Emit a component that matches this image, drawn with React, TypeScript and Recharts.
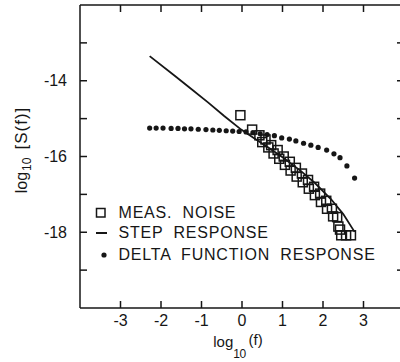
import React from 'react';
import { ScatterChart, Scatter, XAxis, YAxis } from 'recharts';

const INK = '#161616';
const FONT = '"Liberation Sans", Arial, sans-serif';

const X_TICKS = [-3, -2, -1, 0, 1, 2, 3];
const Y_TICKS = [-19, -18, -17, -16, -15, -14, -13];
const Y_LABELED = [-18, -16, -14];

// measured noise (squares)
const noiseLogF = [
  -0.04, 0.25, 0.43, 0.5, 0.58, 0.65, 0.72, 0.78, 0.88, 0.92, 1.03, 1.06, 1.18, 1.2, 1.33, 1.35,
  1.48, 1.5, 1.63, 1.65, 1.78, 1.8, 1.93, 1.95, 2.08, 2.1, 2.22, 2.25, 2.35, 2.38, 2.42, 2.45, 2.57, 2.69,
];
const noiseLogS = [
  -14.91, -15.29, -15.44, -15.62, -15.55, -15.76, -15.7, -15.92, -15.83, -16.06, -16.0, -16.22, -16.14, -16.37, -16.3, -16.53,
  -16.45, -16.68, -16.62, -16.85, -16.8, -17.02, -16.98, -17.2, -17.17, -17.38, -17.38, -17.58, -17.6, -17.85, -17.93, -18.08, -18.08, -18.08,
];

// step response (solid line)
const stepLogF = [-2.28, -1.67, -1.26, -0.84, -0.44, -0.02, 0.3, 0.65, 1.0, 1.45, 1.8, 2.2, 2.5, 2.78];
const stepLogS = [-13.35, -13.86, -14.21, -14.57, -14.93, -15.29, -15.52, -15.76, -16.02, -16.38, -16.7, -17.13, -17.52, -17.99];

// delta function response (dots)
const deltaLogF = [
  -2.28, -2.12, -1.95, -1.75, -1.58, -1.42, -1.26, -1.08, -0.89, -0.72, -0.56, -0.39, -0.23, -0.07,
  0.1, 0.27, 0.45, 0.62, 0.8, 0.98, 1.17, 1.33, 1.52, 1.7, 1.88, 2.09, 2.27, 2.42, 2.59, 2.78,
];
const deltaLogS = [
  -15.25, -15.25, -15.25, -15.26, -15.26, -15.27, -15.27, -15.28, -15.29, -15.3, -15.31, -15.32, -15.33, -15.34,
  -15.35, -15.37, -15.4, -15.42, -15.45, -15.51, -15.54, -15.59, -15.65, -15.7, -15.76, -15.83, -15.93, -16.03, -16.25, -16.57,
];

const zip = (xs: number[], ys: number[]) => xs.map((x, i) => ({ x, y: ys[i] }));
const noise = zip(noiseLogF, noiseLogS);
const step = zip(stepLogF, stepLogS);
const delta = zip(deltaLogF, deltaLogS);

const TICK = { fontSize: 16, fill: INK, fontFamily: FONT };
const blank = () => '';

const SquareShape = (p: any) => (
  <rect x={p.cx - 4.5} y={p.cy - 4.5} width={9} height={9} fill="none" stroke={INK} strokeWidth={1.5} />
);
const DotShape = (p: any) => <circle cx={p.cx} cy={p.cy} r={2.6} fill={INK} />;
const NoShape = () => <g />;

function XTitle() {
  return (
    <text x={238} y={347} textAnchor="middle" fill={INK} fontFamily={FONT} fontSize={15}>
      log<tspan fontSize={12} dy={11} letterSpacing={-0.5}>10</tspan>
      <tspan fontSize={15} dy={-13} dx={3}>(f)</tspan>
    </text>
  );
}

function YTitle() {
  return (
    <text x={27} y={150} transform="rotate(-90 27 150)" textAnchor="middle" fill={INK} fontFamily={FONT} fontSize={16}>
      log<tspan fontSize={12} dy={4} dx={1}>10</tspan>
      <tspan dy={-4} dx={8} fontSize={17} letterSpacing={1}>[S(f)]</tspan>
    </text>
  );
}

const LEGEND_ROWS = [
  { label: 'MEAS. NOISE', kind: 'square', cy: 212.5 },
  { label: 'STEP RESPONSE', kind: 'line', cy: 232.7 },
  { label: 'DELTA FUNCTION RESPONSE', kind: 'dot', cy: 254.5 },
];

function LegendIcon({ kind }: { kind: string }) {
  return (
    <svg width={20} height={20} style={{ position: 'absolute', left: 91, top: 0 }}>
      {kind === 'square' && <rect x={5.5} y={5.5} width={8.5} height={8.5} fill="none" stroke={INK} strokeWidth={1.5} />}
      {kind === 'line' && <line x1={5} y1={10} x2={16} y2={10} stroke={INK} strokeWidth={2} />}
      {kind === 'dot' && <circle cx={13} cy={10} r={2.6} fill={INK} />}
    </svg>
  );
}

export default function App() {
  return (
    <div style={{ position: 'absolute', left: 0, top: 0, width: 400, height: 362, overflow: 'hidden', background: '#fff' }}>
      <ScatterChart width={410} height={362} margin={{ top: 0, right: 0, bottom: 0, left: 0 }}>
        <XAxis
          xAxisId="b"
          type="number"
          dataKey="x"
          domain={[-4, 4]}
          ticks={X_TICKS}
          interval={0}
          height={54}
          tickSize={-7}
          tickMargin={14}
          tick={TICK}
          stroke={INK}
          strokeWidth={1.5}
          label={{ content: () => <XTitle /> }}
        />
        <XAxis
          xAxisId="t"
          orientation="top"
          type="number"
          dataKey="x"
          domain={[-4, 4]}
          ticks={X_TICKS}
          interval={0}
          height={5}
          tickSize={-7}
          tick={TICK}
          tickFormatter={blank}
          stroke={INK}
          strokeWidth={1.5}
        />
        <YAxis
          yAxisId="l"
          type="number"
          dataKey="y"
          domain={[-20, -12]}
          ticks={Y_TICKS}
          interval={0}
          width={80}
          tickSize={-7}
          tickMargin={20}
          tick={TICK}
          tickFormatter={(v: number) => (Y_LABELED.includes(v) ? String(v) : '')}
          stroke={INK}
          strokeWidth={1.5}
          label={{ content: () => <YTitle /> }}
        />
        <YAxis
          yAxisId="r"
          orientation="right"
          type="number"
          dataKey="y"
          domain={[-20, -12]}
          ticks={Y_TICKS}
          interval={0}
          width={6}
          tickSize={-7}
          tick={TICK}
          tickFormatter={blank}
          stroke={INK}
          strokeWidth={1.5}
        />
        <Scatter xAxisId="b" yAxisId="l" data={step} line={{ stroke: INK, strokeWidth: 1.8 }} shape={NoShape} isAnimationActive={false} />
        <Scatter xAxisId="t" yAxisId="r" data={delta} shape={DotShape} isAnimationActive={false} />
        <Scatter xAxisId="b" yAxisId="l" data={noise} shape={SquareShape} isAnimationActive={false} />
      </ScatterChart>
      {LEGEND_ROWS.map((r) => (
        <div
          key={r.label}
          style={{
            position: 'absolute',
            left: 0,
            top: r.cy - 10,
            height: 20,
            width: 400,
            lineHeight: '20px',
            fontFamily: FONT,
            fontSize: 16,
            letterSpacing: 0.8,
            wordSpacing: 5,
            color: INK,
          }}
        >
          <LegendIcon kind={r.kind} />
          <span style={{ position: 'absolute', left: 118.5, top: 0, whiteSpace: 'nowrap' }}>{r.label}</span>
        </div>
      ))}
    </div>
  );
}
